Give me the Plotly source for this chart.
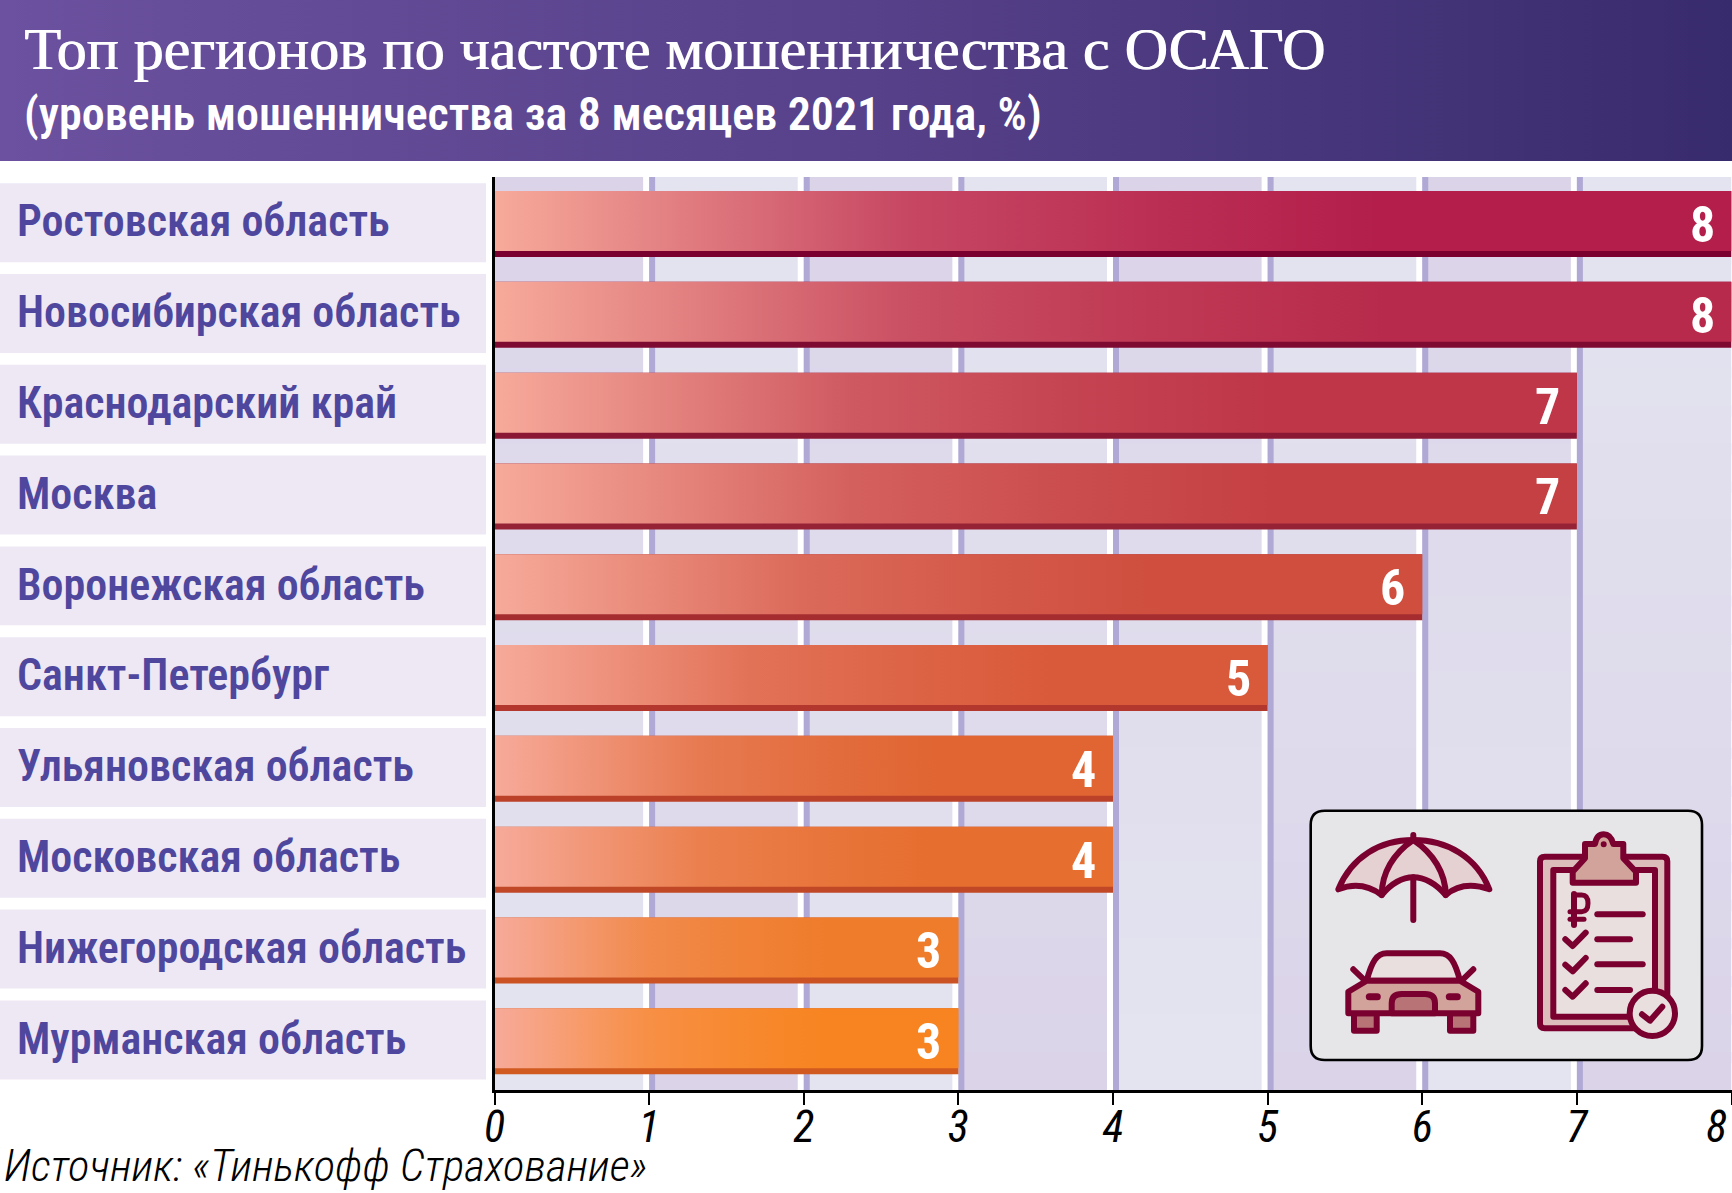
import plotly.graph_objects as go

# ---------- data ----------
regions = ["Ростовская область", "Новосибирская область", "Краснодарский край", "Москва",
           "Воронежская область", "Санкт-Петербург", "Ульяновская область", "Московская область",
           "Нижегородская область", "Мурманская область"]
values = [8, 8, 7, 7, 6, 5, 4, 4, 3, 3]
x_ticks = [0, 1, 2, 3, 4, 5, 6, 7, 8]
title = "Топ регионов по частоте мошенничества с ОСАГО"
subtitle = "(уровень мошенничества за 8 месяцев 2021 года, %)"
source = "Источник: «Тинькофф Страхование»"

# ---------- styles ----------
bar_start = (247, 170, 154)
bar_end = [(179, 30, 75), (183, 42, 75), (190, 54, 72), (197, 64, 67), (207, 78, 62),
           (217, 90, 58), (224, 101, 50), (230, 110, 46), (239, 124, 43), (247, 132, 32)]
bar_edge = ["#7A0030", "#7E0A32", "#8A1835", "#962236", "#A52D30", "#B3372C", "#BB4129", "#C04827", "#CB5323", "#D05A20"]
NARROW = "Roboto Condensed"
SERIF = "Liberation Serif"
W, H = 1732, 1193
PITCH = 90.8
PX = 154.6   # pixels per x unit
BAND_DARK = (219, 212, 233)
BAND_LIGHT = (228, 228, 240)
BAND_STEPS = 24

fig = go.Figure()
shapes = []


def mix(a, b, frac):
    return "rgb(%d,%d,%d)" % tuple(round(p + (q - p) * frac) for p, q in zip(a, b))


for t in x_ticks[:-1]:
    for s in range(BAND_STEPS):
        top_frac = s / (BAND_STEPS - 1)
        frac = top_frac if t % 2 == 0 else 1 - top_frac
        shapes.append(dict(type="rect", xref="x", yref="y domain", x0=t, x1=t + 1,
                           y1=1 - s / BAND_STEPS, y0=max(0, 1 - (s + 1.3) / BAND_STEPS), layer="below",
                           line_width=0, fillcolor=mix(BAND_DARK, BAND_LIGHT, frac)))
for t in x_ticks[1:-1]:
    shapes.append(dict(type="rect", xref="x", yref="y domain", x0=t - 6 / PX, x1=t, y0=0, y1=1, layer="below",
                       line_width=0, fillcolor="#FFFFFF"))
    shapes.append(dict(type="rect", xref="x", yref="y domain", x0=t, x1=t + 6 / PX, y0=0, y1=1, layer="below",
                       line_width=0, fillcolor="#B0A9D5"))

annotations = []
for i, r in enumerate(regions):
    shapes.append(dict(type="rect", xref="paper", yref="y", x0=0, x1=486 / W,
                       y0=i - 0.45, y1=i + 0.42, layer="below", line_width=0, fillcolor="#EDE8F4"))
    annotations.append(dict(text=r, xref="paper", yref="y", x=15 / W, y=i - 0.03, xanchor="left", yanchor="middle",
                            showarrow=False, font=dict(family=NARROW, size=44, color="#4F479E", weight=600)))

BAR_H = 66 / PITCH
FACE_H = 60 / PITCH
idx = list(range(len(regions)))
fig.add_trace(go.Bar(x=values, y=idx, orientation="h", width=BAR_H, marker=dict(color=bar_edge, line_width=0),
                     showlegend=False, hoverinfo="skip", xaxis="x", yaxis="y"))
for i, v in enumerate(values):
    top = i - BAR_H / 2
    bot = top + FACE_H
    end = bar_end[i]
    scale = [[0, mix(bar_start, end, 0)], [0.33, mix(bar_start, end, 0.7)], [0.53, mix(bar_start, end, 0.88)],
             [0.72, mix(bar_start, end, 1)], [1, mix(bar_start, end, 1)]]
    fig.add_trace(go.Scatter(x=[0, v, v, 0, 0], y=[top, top, bot, bot, top], mode="lines", line_width=0,
                             fill="toself", fillgradient=dict(type="horizontal", colorscale=scale),
                             showlegend=False, hoverinfo="skip", xaxis="x", yaxis="y"))
    annotations.append(dict(text=str(v), xref="x", yref="y", x=v, y=i + 0.01, xanchor="right", yanchor="middle",
                            xshift=-15, showarrow=False, font=dict(family=NARROW, size=50, color="white", weight="bold")))

fig.add_trace(go.Scatter(x=[0, W, W, 0, 0], y=[0, 0, 161, 161, 0], mode="lines", line_width=0, fill="toself",
                         fillgradient=dict(type="horizontal",
                         colorscale=[[0, "#6B519F"], [0.5, "#57418A"], [1, "#382B6D"]]),
                         showlegend=False, hoverinfo="skip", xaxis="x2", yaxis="y2"))
annotations += [
    dict(text=title, xref="x2", yref="y2", x=22, y=49, xanchor="left", yanchor="middle", showarrow=False,
         font=dict(family=SERIF, size=60, color="white", shadow="1px 0 0 white")),
    dict(text=subtitle, xref="x2", yref="y2", x=22, y=114, xanchor="left", yanchor="middle", showarrow=False,
         font=dict(family=NARROW, size=46, color="white", weight=600)),
    dict(text=source, xref="x2", yref="y2", x=2, y=1165, xanchor="left", yanchor="middle", showarrow=False,
         font=dict(family=NARROW, size=45, color="black", style="italic", weight=300)),
]

DK, PINK, MID, DEEP, PALE, CLIP = "#7A0030", "#E5D1D1", "#D2A39B", "#B87376", "#E8DFDE", "#DDBDBB"
OX, OY = 1280, 790


def path(cmds):
    out = []
    for c in cmds:
        op, pts = c[0], c[1:]
        out.append(op + " ".join(f"{OX + pts[k] / 3:.1f},{OY + pts[k + 1] / 3:.1f}" for k in range(0, len(pts), 2)))
    return " ".join(out)


def icon(cmds, fill="rgba(0,0,0,0)", lw=6, color=DK):
    shapes.append(dict(type="path", xref="x2", yref="y2", path=path(cmds), fillcolor=fill, layer="above",
                       line=dict(color=color, width=lw)))


def circle(cx, cy, r):
    k = 0.5523 * r
    return [("M", cx - r, cy), ("C", cx - r, cy - k, cx - k, cy - r, cx, cy - r),
            ("C", cx + k, cy - r, cx + r, cy - k, cx + r, cy),
            ("C", cx + r, cy + k, cx + k, cy + r, cx, cy + r),
            ("C", cx - k, cy + r, cx - r, cy + k, cx - r, cy), ("Z",)]


def round_rect(x0, y0, x1, y1, r):
    return [("M", x0 + r, y0), ("L", x1 - r, y0), ("Q", x1, y0, x1, y0 + r), ("L", x1, y1 - r),
            ("Q", x1, y1, x1 - r, y1), ("L", x0 + r, y1), ("Q", x0, y1, x0, y1 - r), ("L", x0, y0 + r),
            ("Q", x0, y0, x0 + r, y0), ("Z",)]


icon(round_rect(92, 62, 1266, 810, 42), "#E6E6E9", 2.6, "#000000")
# umbrella
icon([("M", 175, 298), ("C", 215, 200, 300, 150, 400, 150), ("C", 500, 150, 590, 200, 628, 298),
      ("Q", 550, 270, 497, 315), ("Q", 450, 262, 400, 262), ("Q", 350, 262, 305, 315), ("Q", 245, 270, 175, 298), ("Z",)], PINK)
icon([("M", 400, 150), ("C", 340, 190, 305, 250, 305, 315)])
icon([("M", 400, 150), ("C", 460, 190, 497, 250, 497, 315)])
icon([("M", 400, 262), ("L", 400, 390)])
icon([("M", 400, 135), ("L", 400, 150)])
# car
icon([("M", 260, 572), ("C", 275, 515, 290, 490, 320, 490), ("L", 480, 490), ("C", 510, 490, 525, 515, 540, 572), ("Z",)], PALE)
icon([("M", 220, 538), ("L", 255, 572)])
icon([("M", 580, 538), ("L", 545, 572)])
icon([("M", 222, 670), ("L", 222, 722), ("L", 290, 722), ("L", 290, 670), ("Z",)], DEEP)
icon([("M", 510, 670), ("L", 510, 722), ("L", 580, 722), ("L", 580, 670), ("Z",)], DEEP)
icon([("M", 205, 605), ("L", 260, 572), ("L", 540, 572), ("L", 595, 605), ("L", 595, 670), ("L", 205, 670), ("Z",)], MID)
icon([("M", 335, 670), ("L", 335, 640), ("Q", 335, 612, 365, 612), ("L", 435, 612), ("Q", 465, 612, 465, 640), ("L", 465, 670), ("Z",)], DEEP)
icon([("M", 268, 620), ("L", 292, 620)], lw=7)
icon([("M", 508, 620), ("L", 532, 620)], lw=7)
# clipboard
icon(round_rect(780, 200, 1162, 715, 14), CLIP)
icon([("M", 820, 240), ("L", 1125, 240), ("L", 1125, 680), ("L", 820, 680), ("Z",)], PALE)
icon([("M", 878, 278), ("L", 878, 245), ("L", 915, 205), ("L", 915, 162), ("L", 945, 162), ("Q", 950, 133, 971, 133),
      ("Q", 992, 133, 1000, 162), ("L", 1030, 162), ("L", 1030, 205), ("L", 1068, 245), ("L", 1068, 278), ("Z",)], MID)
icon(circle(971, 163, 6), DK, 2)
icon([("M", 882, 312), ("L", 882, 405)], lw=6)
icon([("M", 882, 315), ("L", 905, 315), ("Q", 924, 315, 924, 340), ("Q", 924, 365, 905, 365), ("L", 870, 365)], lw=5)
icon([("M", 870, 388), ("L", 912, 388)], lw=5)
for yy, xe in ((373, 1088), (448, 1050), (523, 1088), (600, 1050)):
    icon([("M", 952, yy), ("L", xe, yy)])
for dy in (0, 76, 152):
    icon([("M", 856, 448 + dy), ("L", 878, 468 + dy), ("L", 917, 428 + dy)])
icon(circle(1117, 670, 68), PALE)
icon([("M", 1086, 673), ("L", 1110, 692), ("L", 1147, 650)])

tick_text = [str(t) for t in x_ticks]
tick_text[-1] += "\u00a0\u00a0\u00a0"   # last label sits inside the page

fig.update_layout(
    width=W, height=H, margin=dict(l=0, r=0, t=0, b=0, pad=0, autoexpand=False), autosize=False,
    paper_bgcolor="white", plot_bgcolor="rgba(0,0,0,0)", showlegend=False, barmode="overlay",
    shapes=shapes, annotations=annotations,
    xaxis=dict(domain=[494.5 / W, 1731.5 / W], range=[0, 8], tickvals=x_ticks, ticktext=tick_text, tickangle=0,
               ticks="outside", ticklen=12, tickwidth=2, tickcolor="black", showline=True, linecolor="black",
               linewidth=2.5, showgrid=False, zeroline=False, anchor="y", ticklabelstandoff=-16,
               ticklabeloverflow="allow",
               tickfont=dict(family=NARROW, size=44, color="black", style="italic", weight=400)),
    yaxis=dict(domain=[(H - 1090) / H, (H - 177) / H], range=[9.537, -0.518], showticklabels=False, ticks="",
               showline=True, linecolor="black", linewidth=2.5, showgrid=False, zeroline=False, anchor="x"),
    xaxis2=dict(domain=[0, 1], range=[0, W], visible=False, anchor="y2", fixedrange=True),
    yaxis2=dict(domain=[0, 1], range=[H, 0], visible=False, anchor="x2", fixedrange=True),
)

css = ("document.body.style.margin='0';"
       "var s=document.createElement('style');"
       "s.textContent='.shapelayer path{stroke-linecap:round;stroke-linejoin:round}';"
       "document.head.appendChild(s);")
fig.write_html("out.html", post_script=css, config={"displayModeBar": False})
